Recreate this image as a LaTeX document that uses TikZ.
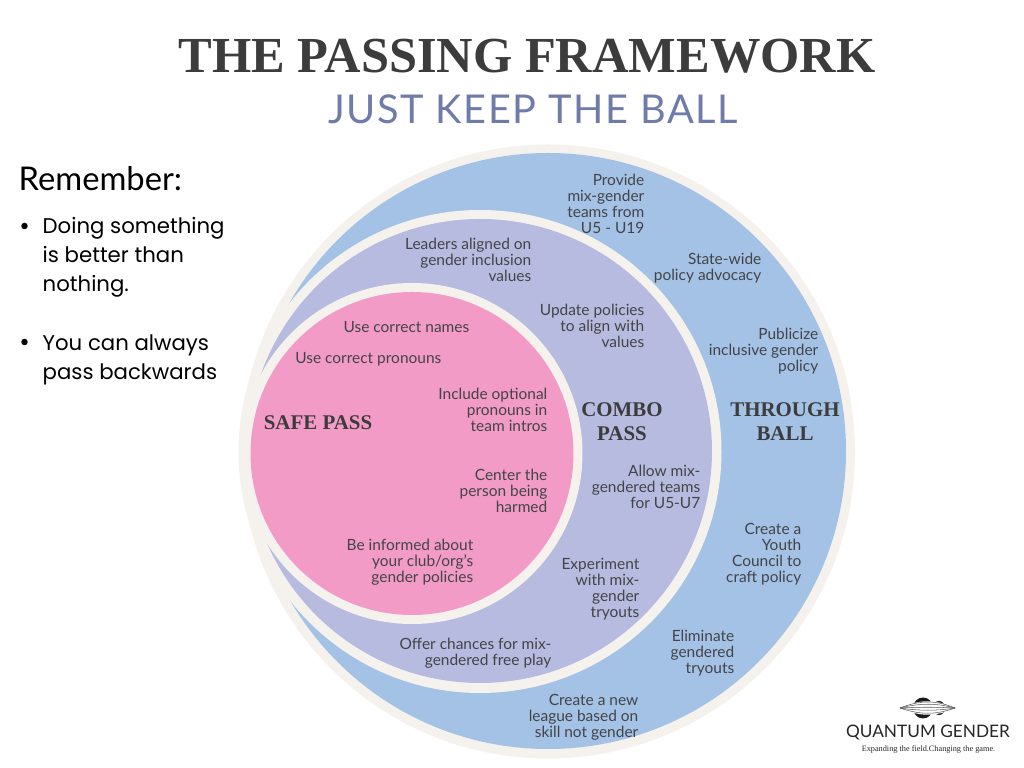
\documentclass[tikz,border=0pt]{standalone}
\usepackage{fontspec}
\setmainfont{Lato}
\newfontfamily\headfont{Liberation Serif}
\newfontfamily\sidefont{Poppins}
\definecolor{ringbeige}{HTML}{F5F2ED}
\definecolor{throughblue}{HTML}{A3C2E5}
\definecolor{combolilac}{HTML}{B6BBDF}
\definecolor{safepink}{HTML}{F29BC6}
\definecolor{inkgrey}{HTML}{444448}
\definecolor{titlegrey}{HTML}{3C3C3C}
\definecolor{subblue}{HTML}{6F7BA9}
\tikzset{
  ringtext/.style={anchor=east, align=right, inner sep=0pt, text=inkgrey, font=\fontsize{4.4}{4.55}\selectfont},
  ringhead/.style={align=center, inner sep=0pt, text=titlegrey, font=\fontsize{5.95}{6.8}\headfont\bfseries},
  sidetext/.style={anchor=west, align=left, inner sep=0pt, text=black, font=\fontsize{6.05}{8.25}\sidefont},
  sidedot/.style={circle, fill=black, inner sep=0pt, minimum size=0.065cm}
}
\begin{document}
\begin{tikzpicture}
\useasboundingbox (0,0) rectangle (10.24,7.68);
\fill[white] (0,0) rectangle (10.24,7.68);
% rings
\fill[ringbeige] (5.48,3.165) circle (3.07);
\fill[throughblue] (5.48,3.17) circle (2.98);
\fill[ringbeige] (4.80,3.165) circle (2.415);
\fill[combolilac] (4.80,3.17) circle (2.32);
\fill[ringbeige] (4.12,3.145) circle (1.705);
\fill[safepink] (4.12,3.145) circle (1.615);
% title
\node[inner sep=0pt, text=titlegrey, font=\fontsize{14.35}{16}\headfont\bfseries] (title) at (5.27,7.12) {THE PASSING FRAMEWORK};
\node[inner sep=0pt, text=subblue, font=\fontsize{11.3}{12}\selectfont] (subtitle) at (5.33,6.59) {\addfontfeatures{LetterSpace=4}JUST KEEP THE BALL};
% left column
\node[anchor=west, inner sep=0pt, font=\fontsize{9.3}{11}\selectfont] (remember) at (0.18,5.89) {Remember:};
\node[sidetext] (doing) at (0.42,5.11) {Doing something\\is better than\\nothing.};
\node[sidetext] (always) at (0.42,4.085) {You can always\\pass backwards};
\node[sidedot] (dotdoing) at (0.245,5.42) {};
\node[sidedot] (dotalways) at (0.245,4.26) {};
% ring headings
\node[ringhead] (safehead) at (3.18,3.455) {SAFE PASS};
\node[ringhead] (combohead) at (6.22,3.465) {COMBO\\PASS};
\node[ringhead] (throughhead) at (7.85,3.465) {THROUGH\\BALL};
% through ball
\node[ringtext] (provide) at (6.45,5.64) {Provide\\mix-gender\\teams from\\U5 - U19};
\node[ringtext] (statewide) at (7.62,5.00) {State-wide\\policy advocacy};
\node[ringtext] (publicize) at (8.19,4.17) {Publicize\\inclusive gender\\policy};
\node[ringtext] (council) at (8.02,2.14) {Create a\\Youth\\Council to\\craft policy};
\node[ringtext] (eliminate) at (7.35,1.15) {Eliminate\\gendered\\tryouts};
\node[ringtext] (league) at (6.39,0.51) {Create a new\\league based on\\skill not gender};
% combo pass
\node[ringtext] (leaders) at (5.32,5.08) {Leaders aligned on\\gender inclusion\\values\hspace{0.04cm}};
\node[ringtext] (update) at (6.45,4.42) {Update policies\\to align with\\values};
\node[ringtext] (allow) at (7.01,2.81) {Allow mix-\\gendered teams\\for U5-U7};
\node[ringtext] (tryouts) at (6.40,1.79) {Experiment\\with mix-\\gender\\tryouts};
\node[ringtext] (freeplay) at (5.52,1.15) {Offer chances for mix-\\gendered free play};
% safe pass
\node[ringtext] (names) at (4.70,4.41) {Use correct names};
\node[ringtext] (pronouns) at (4.42,4.09) {Use correct pronouns};
\node[ringtext] (intros) at (5.48,3.58) {Include optional\\pronouns in\\team intros};
\node[ringtext] (center) at (5.48,2.77) {Center the\\person being\\harmed};
\node[ringtext] (informed) at (4.74,2.06) {Be informed about\\your club/org's\\gender policies};
% logo
\fill[black!90] (9.23,0.60) ellipse (0.10 and 0.105);
\fill[black!90] (9.39,0.60) ellipse (0.06 and 0.07);
\fill[white] (9.00,0.60) .. controls (9.2,0.69) and (9.36,0.69) .. (9.55,0.60) .. controls (9.36,0.51) and (9.2,0.51) .. (9.00,0.60) -- cycle;
\foreach \y in {0.53,0.57,0.61,0.65,0.68}
  \draw[black!65, line width=0.15pt] (9.00,0.60) .. controls (9.2,\y) and (9.36,\y) .. (9.55,0.60);
\node[inner sep=0pt, text=black!85, font=\fontsize{4.9}{6}\selectfont] (logotext) at (9.28,0.35) {QUANTUM GENDER};
\node[inner sep=0pt, text=black!85, font=\fontsize{2.35}{3}\headfont] (logotag) at (9.285,0.19) {Expanding the field.Changing the game.};
\end{tikzpicture}
\end{document}
